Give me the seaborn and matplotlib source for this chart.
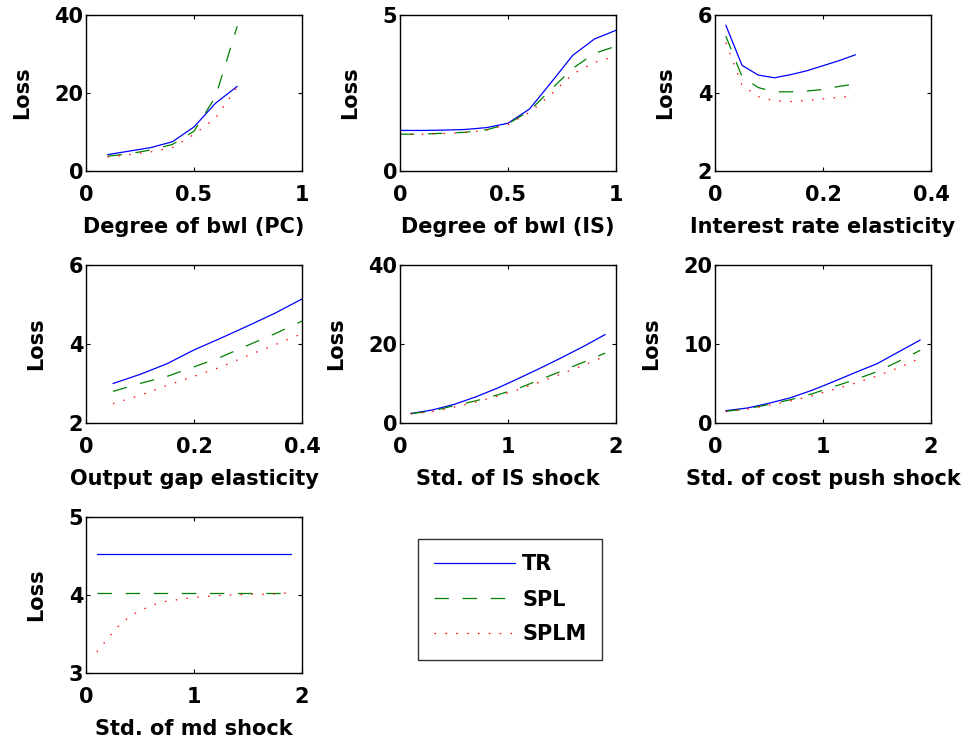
import numpy as np
import pandas as pd
import matplotlib
matplotlib.use("Agg")
import matplotlib.pyplot as plt
import seaborn as sns

sns.set_style("white")
plt.rcParams["font.family"] = ["DejaVu Sans"]
plt.rcParams["font.weight"] = "bold"
plt.rcParams["axes.labelweight"] = "bold"
plt.rcParams["text.color"] = "black"
plt.rcParams["axes.labelcolor"] = "black"
plt.rcParams["xtick.color"] = "black"
plt.rcParams["ytick.color"] = "black"

# --- Degree of backward-looking behaviour in the Phillips curve ---
bwl_pc_x = [0.1, 0.2, 0.3, 0.4, 0.5, 0.6, 0.7]
bwl_pc_tr = [4.2, 5.1, 6.0, 7.5, 11.3, 17.4, 21.7]
bwl_pc_spl = [3.8, 4.4, 5.4, 6.8, 10.2, 19.1, 37.1]
bwl_pc_splm = [3.6, 4.2, 4.9, 6.0, 9.4, 13.6, 21.5]

# --- Degree of backward-looking behaviour in the IS curve ---
bwl_is_x = [0.0, 0.1, 0.2, 0.3, 0.4, 0.5, 0.6, 0.7, 0.8, 0.9, 1.0]
bwl_is_tr = [1.30, 1.30, 1.31, 1.33, 1.39, 1.53, 1.99, 2.84, 3.71, 4.23, 4.51]
bwl_is_spl = [1.18, 1.18, 1.21, 1.24, 1.32, 1.51, 1.93, 2.62, 3.29, 3.77, 4.00]
bwl_is_splm = [1.18, 1.18, 1.20, 1.23, 1.31, 1.49, 1.88, 2.46, 3.11, 3.48, 3.68]

# --- Interest rate elasticity ---
ir_x = [0.02, 0.05, 0.08, 0.11, 0.14, 0.17, 0.20, 0.23, 0.26]
ir_tr = [5.74, 4.71, 4.46, 4.39, 4.47, 4.57, 4.70, 4.83, 4.98]
ir_spl = [5.46, 4.42, 4.14, 4.03, 4.03, 4.05, 4.09, 4.17, 4.23]
ir_splm = [5.29, 4.20, 3.91, 3.80, 3.78, 3.81, 3.85, 3.89, 3.93]

# --- Output gap elasticity ---
og_x = [0.05, 0.10, 0.15, 0.20, 0.25, 0.30, 0.35, 0.40]
og_tr = [3.00, 3.23, 3.50, 3.85, 4.15, 4.46, 4.78, 5.14]
og_spl = [2.80, 3.00, 3.18, 3.42, 3.67, 3.97, 4.26, 4.58]
og_splm = [2.49, 2.70, 2.95, 3.18, 3.42, 3.71, 3.98, 4.26]

# --- Standard deviation of the IS shock ---
is_x = [0.1, 0.3, 0.5, 0.7, 0.9, 1.1, 1.3, 1.5, 1.7, 1.9]
is_tr = [2.4, 3.3, 4.7, 6.6, 8.8, 11.3, 13.9, 16.6, 19.4, 22.4]
is_spl = [2.4, 3.0, 4.4, 5.6, 7.1, 8.8, 11.0, 13.2, 15.4, 17.7]
is_splm = [2.3, 2.9, 4.0, 5.3, 6.8, 8.5, 10.4, 12.5, 14.6, 16.9]

# --- Standard deviation of the cost push shock ---
cp_x = [0.1, 0.3, 0.5, 0.7, 0.9, 1.1, 1.3, 1.5, 1.7, 1.9]
cp_tr = [1.56, 1.90, 2.50, 3.20, 4.15, 5.25, 6.40, 7.50, 9.00, 10.50]
cp_spl = [1.48, 1.80, 2.35, 2.95, 3.70, 4.60, 5.50, 6.50, 7.80, 9.20]
cp_splm = [1.43, 1.75, 2.25, 2.80, 3.45, 4.25, 5.05, 5.95, 7.00, 8.20]

# --- Standard deviation of the money demand shock ---
md_x = [0.1, 0.2, 0.3, 0.4, 0.5, 0.6, 0.7, 0.8, 0.9, 1.0,
        1.1, 1.2, 1.3, 1.4, 1.5, 1.6, 1.7, 1.8, 1.9]
md_tr = [4.52] * 19
md_spl = [4.03] * 19
md_splm = [3.27, 3.44, 3.60, 3.72, 3.80, 3.86, 3.91, 3.93, 3.95, 3.97,
           3.98, 3.99, 4.00, 4.00, 4.01, 4.01, 4.01, 4.02, 4.03]

rules = ["TR", "SPL", "SPLM"]
rule_colors = {"TR": "#0000ff", "SPL": "#008000", "SPLM": "#ff0000"}
rule_dashes = {"TR": None, "SPL": (11.5, 11), "SPLM": (1.2, 7.5)}

panels = [
    dict(xlabel="Degree of bwl (PC)", x=bwl_pc_x, y=[bwl_pc_tr, bwl_pc_spl, bwl_pc_splm],
         xlim=(0, 1), ylim=(0, 40), xticks=[0, 0.5, 1], yticks=[0, 20, 40]),
    dict(xlabel="Degree of bwl (IS)", x=bwl_is_x, y=[bwl_is_tr, bwl_is_spl, bwl_is_splm],
         xlim=(0, 1), ylim=(0, 5), xticks=[0, 0.5, 1], yticks=[0, 5]),
    dict(xlabel="Interest rate elasticity", x=ir_x, y=[ir_tr, ir_spl, ir_splm],
         xlim=(0, 0.4), ylim=(2, 6), xticks=[0, 0.2, 0.4], yticks=[2, 4, 6]),
    dict(xlabel="Output gap elasticity", x=og_x, y=[og_tr, og_spl, og_splm],
         xlim=(0, 0.4), ylim=(2, 6), xticks=[0, 0.2, 0.4], yticks=[2, 4, 6]),
    dict(xlabel="Std. of IS shock", x=is_x, y=[is_tr, is_spl, is_splm],
         xlim=(0, 2), ylim=(0, 40), xticks=[0, 1, 2], yticks=[0, 20, 40]),
    dict(xlabel="Std. of cost push shock", x=cp_x, y=[cp_tr, cp_spl, cp_splm],
         xlim=(0, 2), ylim=(0, 20), xticks=[0, 1, 2], yticks=[0, 10, 20]),
    dict(xlabel="Std. of md shock", x=md_x, y=[md_tr, md_spl, md_splm],
         xlim=(0, 2), ylim=(3, 5), xticks=[0, 1, 2], yticks=[3, 4, 5]),
]

W, H = 974, 747
fig = plt.figure(figsize=(W / 100, H / 100), dpi=100)

col_left = [86, 400, 715]
row_top = [15, 265, 517]
row_h = [156, 158, 156]
ax_w = 216
FS = 15


def fmt(v):
    return f"{v:g}"


legend_handles = None
for i, p in enumerate(panels):
    r, c = divmod(i, 3)
    ax = fig.add_axes([col_left[c] / W, 1 - (row_top[r] + row_h[r]) / H,
                       ax_w / W, row_h[r] / H])
    frames = []
    for name, yv in zip(rules, p["y"]):
        frames.append(pd.DataFrame({"x": p["x"], "Loss": yv, "rule": name}))
    df = pd.concat(frames, ignore_index=True)
    for name in rules:
        sub = df[df["rule"] == name]
        sns.lineplot(data=sub, x="x", y="Loss", ax=ax, color=rule_colors[name],
                     linewidth=0.9, label=name, legend=False)
        line = ax.lines[-1]
        if rule_dashes[name] is not None:
            line.set_dashes(rule_dashes[name])
            line.set_dash_capstyle("butt")
    if legend_handles is None:
        legend_handles = list(ax.lines)
    ax.set_xlim(*p["xlim"])
    ax.set_ylim(*p["ylim"])
    ax.set_xticks(p["xticks"])
    ax.set_yticks(p["yticks"])
    ax.set_xticklabels([fmt(v) for v in p["xticks"]], fontsize=FS, fontweight="bold")
    ax.set_yticklabels([fmt(v) for v in p["yticks"]], fontsize=FS, fontweight="bold")
    ax.tick_params(direction="in", length=3, width=0.8, top=True, right=True,
                   bottom=True, left=True, colors="black", labelcolor="black")
    ax.tick_params(axis="x", pad=10)
    ax.tick_params(axis="y", pad=2)
    ax.set_xlabel(p["xlabel"], fontsize=FS, fontweight="bold", labelpad=9,
                  color="black")
    ax.set_ylabel("Loss", fontsize=FS, fontweight="bold", labelpad=16,
                  color="black")
    for sp in ax.spines.values():
        sp.set_visible(True)
        sp.set_color("black")
        sp.set_linewidth(1.0)
    ax.set_facecolor("white")

# Legend in the empty slot next to the last panel
leg_ax = fig.add_axes([416 / W, 1 - 660 / H, (604 - 416) / W, (660 - 539) / H])
leg_ax.axis("off")
leg = leg_ax.legend(legend_handles, rules, loc="center", frameon=True,
                    fancybox=False, edgecolor="black", labelcolor="black",
                    handlelength=3.9, handletextpad=0.35, labelspacing=0.72,
                    borderpad=0.75, prop={"weight": "bold", "size": FS})
leg.get_frame().set_linewidth(1.0)

fig.savefig("out.png", dpi=100, facecolor="white")
